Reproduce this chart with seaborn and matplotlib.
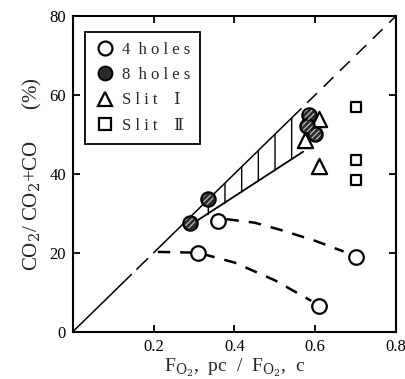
import matplotlib
matplotlib.use("Agg")
import matplotlib.pyplot as plt
from matplotlib.lines import Line2D
from matplotlib.patches import Polygon
import seaborn as sns

# data
holes4_x = [0.31, 0.36, 0.70, 0.61]
holes4_y = [20.0, 28.0, 19.0, 6.5]
holes8_x = [0.29, 0.335, 0.585, 0.58, 0.60]
holes8_y = [27.5, 33.5, 55.0, 52.0, 50.0]
slit1_x = [0.61, 0.575, 0.61]
slit1_y = [54.0, 48.5, 42.0]
slit2_x = [0.70, 0.70, 0.70]
slit2_y = [57.0, 43.5, 38.5]

curve_low_x = [0.21, 0.31, 0.40, 0.50, 0.59]
curve_low_y = [20.2, 20.0, 17.5, 13.0, 7.8]
curve_high_x = [0.38, 0.45, 0.52, 0.60, 0.67]
curve_high_y = [28.5, 27.6, 25.6, 23.0, 20.3]

band_x = [0.27, 0.565, 0.57, 0.32]
band_y = [27.0, 56.5, 45.6, 28.5]
band_low_x = [0.31, 0.57]
band_low_y = [28.3, 45.6]

diag_solid = [(0.0, 0.145), (0.20, 0.565)]
diag_dash = (0.58, 0.80)

x_ticks = [0.2, 0.4, 0.6, 0.8]
y_ticks = [0, 20, 40, 60, 80]

sns.set_style("ticks")
plt.rcParams['font.family'] = ['Liberation Serif', 'DejaVu Serif']
plt.rcParams['mathtext.fontset'] = 'dejavuserif'
plt.rcParams['hatch.linewidth'] = 1.0

fig = plt.figure(figsize=(4.05, 3.79), dpi=100)
ax = fig.add_axes([0.18, 0.125, 0.798, 0.833])

# diagonal reference line y = 100 x
for x0, x1 in diag_solid:
    sns.lineplot(x=[x0, x1], y=[x0 * 100, x1 * 100], ax=ax, color='black', lw=1.1)
ax.plot(list(diag_dash), [v * 100 for v in diag_dash],
        color='black', lw=1.1, linestyle=(0, (9, 6)))
ax.plot([0.158, 0.185], [15.8, 18.5], color='black', lw=1.1)

# hatched band
ax.add_patch(Polygon(list(zip(band_x, band_y)), closed=True, facecolor='none',
                     edgecolor='black', lw=0, hatch='|'))
sns.lineplot(x=band_low_x, y=band_low_y, ax=ax, color='black', lw=1.3)

# dashed trend curves
for cx, cy in [(curve_low_x, curve_low_y), (curve_high_x, curve_high_y)]:
    ax.plot(cx, cy, color='black', lw=1.8, linestyle=(0, (5, 4)))

# markers
sns.scatterplot(x=holes4_x, y=holes4_y, ax=ax, marker='o', s=110,
                facecolor='white', edgecolor='black', linewidth=1.6, zorder=5)
sns.scatterplot(x=holes8_x, y=holes8_y, ax=ax, marker='o', s=110,
                facecolor='#2a2a2a', edgecolor='black', linewidth=1.4, zorder=5)
plt.rcParams['hatch.linewidth'] = 0.9
ax.scatter(holes8_x, holes8_y, marker='o', s=60, facecolor='none',
           edgecolor='#bbbbbb', linewidth=0, hatch='//////', zorder=6)
sns.scatterplot(x=slit1_x, y=slit1_y, ax=ax, marker='^', s=120,
                facecolor='white', edgecolor='black', linewidth=1.6, zorder=4)
sns.scatterplot(x=slit2_x, y=slit2_y, ax=ax, marker='s', s=60,
                facecolor='white', edgecolor='black', linewidth=1.6, zorder=4)

ax.set_xlim(0, 0.8)
ax.set_ylim(0, 80)
ax.set_xticks(x_ticks)
ax.set_xticklabels([f"{v:.1f}" for v in x_ticks])
ax.set_yticks(y_ticks)
ax.set_yticklabels([str(v) for v in y_ticks])
ax.tick_params(direction='in', length=5, width=1.3, top=True, right=True,
               labelsize=12, pad=5, colors='black')
for sp in ax.spines.values():
    sp.set_linewidth(1.5)
    sp.set_color('black')

ax.set_xlabel(r"F$_{\mathrm{O}_2}$,  pc  /  F$_{\mathrm{O}_2}$,  c", fontsize=14, labelpad=2)
ax.set_ylabel(r"CO$_2$/ CO$_2$+CO      (%)", fontsize=15, labelpad=4)

handles = [
    Line2D([], [], marker='o', ls='', ms=10, mfc='white', mec='black', mew=1.6),
    Line2D([], [], marker='o', ls='', ms=10, mfc='#2a2a2a', mec='black', mew=1.4),
    Line2D([], [], marker='^', ls='', ms=10, mfc='white', mec='black', mew=1.6),
    Line2D([], [], marker='s', ls='', ms=8, mfc='white', mec='black', mew=1.6),
]
labels = ["4  h o l e s", "8  h o l e s", "S l i t    Ⅰ", "S l i t    Ⅱ"]
leg = ax.legend(handles, labels, loc='upper left', bbox_to_anchor=(0.038, 0.949),
                borderaxespad=0, fontsize=12, frameon=True, fancybox=False,
                edgecolor='black', labelspacing=0.55, handletextpad=0.4,
                borderpad=0.6, handlelength=1.2)
leg.get_frame().set_linewidth(1.3)
leg.get_frame().set_alpha(1)

fig.savefig("out.png", dpi=100)
